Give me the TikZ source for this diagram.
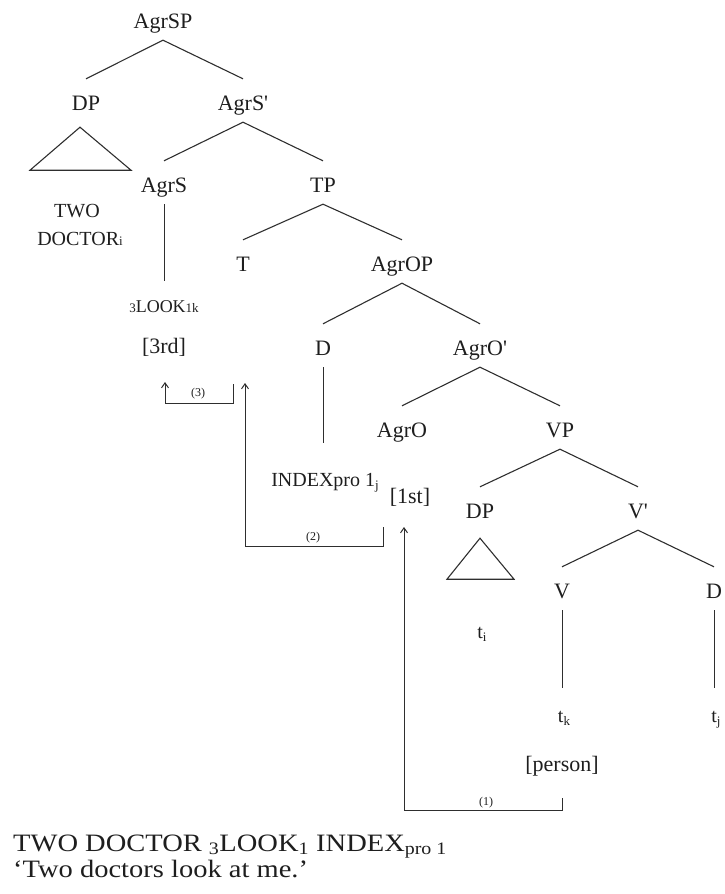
\documentclass[tikz,border=0pt]{standalone}
\usepackage{fontspec}
\setmainfont{Liberation Serif}
\newfontfamily\glossfont[FakeStretch=1.14]{Liberation Serif}
\usetikzlibrary{arrows.meta,calc}
\definecolor{ink}{HTML}{1E1E1E}
\definecolor{lin}{HTML}{2E2E2E}
% smaller text kept on the baseline (indices inside the tree)
\newcommand{\sm}[1]{{\fontsize{13}{13}\selectfont #1}}
\newcommand{\lowsub}[1]{\raisebox{-0.35ex}{\fontsize{13}{13}\selectfont #1}}
\begin{document}
\begin{tikzpicture}[x=1pt,y=-1pt,
  cat/.style={inner sep=0pt, anchor=base, text height=31pt, text depth=12pt,
              font=\fontsize{22}{24}\selectfont, text=ink},
  leaf/.style={inner sep=0pt, anchor=base, font=\fontsize{20}{22}\selectfont, text=ink},
  branch/.style={draw=lin, line width=1.1pt, line join=miter},
  stem/.style={draw=lin, line width=0.9pt},
  mover/.style={draw=lin, line width=1pt, -{Straight Barb[length=5pt,width=7pt,line width=1pt]}},
  steplabel/.style={inner sep=0pt, font=\fontsize{12}{12}\selectfont, text=ink},
  gloss/.style={inner sep=0pt, anchor=base west, font=\glossfont\fontsize{25}{26}\selectfont, text=ink}]
\useasboundingbox (0,0) rectangle (725,894);

% ---- phrase structure ----
\node[cat] (agrsp) at (163,28) {AgrSP};
\node[cat] (dpa) at (86,110) {DP};
\node[cat] (agrsbar) at (243,110) {AgrS\textquotesingle};
\node[cat] (agrs) at (164,192) {AgrS};
\node[cat] (tp) at (323,192) {TP};
\node[cat] (t) at (243,271) {T};
\node[cat] (agrop) at (402,271) {AgrOP};
\node[cat] (d) at (323,355) {D};
\node[cat] (agrobar) at (480,355) {AgrO\textquotesingle};
\node[cat] (agro) at (402,437) {AgrO};
\node[cat] (vp) at (560,437) {VP};
\node[cat] (dpb) at (480,518) {DP};
\node[cat] (vbar) at (638,518) {V\textquotesingle};
\node[cat] (v) at (562,598) {V};
\node[cat] (dc) at (714,598) {D};

% ---- terminals and features ----
\node[leaf] (two) at (77,217) {TWO};
\node[leaf] (doctor) at (80,245) {DOCTOR\sm{i}};
\node[cat, font=\fontsize{18}{20}\selectfont] (look) at (164,312) {\sm{3}LOOK\sm{1k}};
\node[cat] (rd) at (164,353) {[3rd]};
\node[leaf, text height=43pt] (index) at (325,486) {INDEXpro 1\lowsub{j}};
\node[cat] (st) at (410,503) {[1st]};
\node[leaf] (ti) at (482,638) {t\lowsub{i}};
\node[leaf, text height=34pt] (tk) at (564,722) {t\lowsub{k}};
\node[leaf, text height=34pt] (tj) at (716,722) {t\lowsub{j}};
\node[cat] (person) at (562,771) {[person]};

% ---- branches ----
\draw[branch] (agrsp.south) -- (dpa.north);
\draw[branch] (agrsp.south) -- (agrsbar.north);
\draw[branch] (agrsbar.south) -- (agrs.north);
\draw[branch] (agrsbar.south) -- (tp.north);
\draw[branch] (tp.south) -- (t.north);
\draw[branch] (tp.south) -- (agrop.north);
\draw[branch] (agrop.south) -- (d.north);
\draw[branch] (agrop.south) -- (agrobar.north);
\draw[branch] (agrobar.south) -- (agro.north);
\draw[branch] (agrobar.south) -- (vp.north);
\draw[branch] (vp.south) -- (dpb.north);
\draw[branch] (vp.south) -- (vbar.north);
\draw[branch] (vbar.south) -- (v.north);
\draw[branch] (vbar.south) -- (dc.north);

% straight stems down to the terminals
\draw[stem] (agrs.south) -- (agrs.south |- look.north);
\draw[stem] (d.south) -- (d.south |- index.north);
\draw[stem] (v.south) -- (v.south |- tk.north);
\draw[stem] (dc.south) -- (dc.south |- tj.north);

% triangles for the two DPs
\draw[branch] ($(dpa.south)+(-6,5)$) -- ++(-50,43) -- ++(101,0) -- cycle;
\draw[branch] ($(dpb.south)+(0,8)$) -- ++(-33,41) -- ++(67,0) -- cycle;

% ---- feature movement (1), (2), (3) ----
\coordinate (m3s) at (233,384);
\coordinate (m3c) at (165,403);
\coordinate (m3t) at (165,382);
\draw[mover] (m3s) |- (m3c) -- (m3t);
\node[steplabel] (l3) at (198,394) {(3)};

\coordinate (m2s) at (383,527);
\coordinate (m2c) at (245,546);
\coordinate (m2t) at (245,383);
\draw[mover] (m2s) |- (m2c) -- (m2t);
\node[steplabel] (l2) at (313,538) {(2)};

\coordinate (m1s) at (562,798);
\coordinate (m1c) at (404,810);
\coordinate (m1t) at (404,527);
\draw[mover] (m1s) |- (m1c) -- (m1t);
\node[steplabel] (l1) at (486,803) {(1)};

% ---- gloss ----
\node[gloss] (g1) at (13,851) {TWO DOCTOR \textsubscript{3}LOOK\textsubscript{1} INDEX\textsubscript{pro 1}};
\node[gloss] (g2) at (13,877) {‘Two doctors look at me.’};
\end{tikzpicture}
\end{document}
